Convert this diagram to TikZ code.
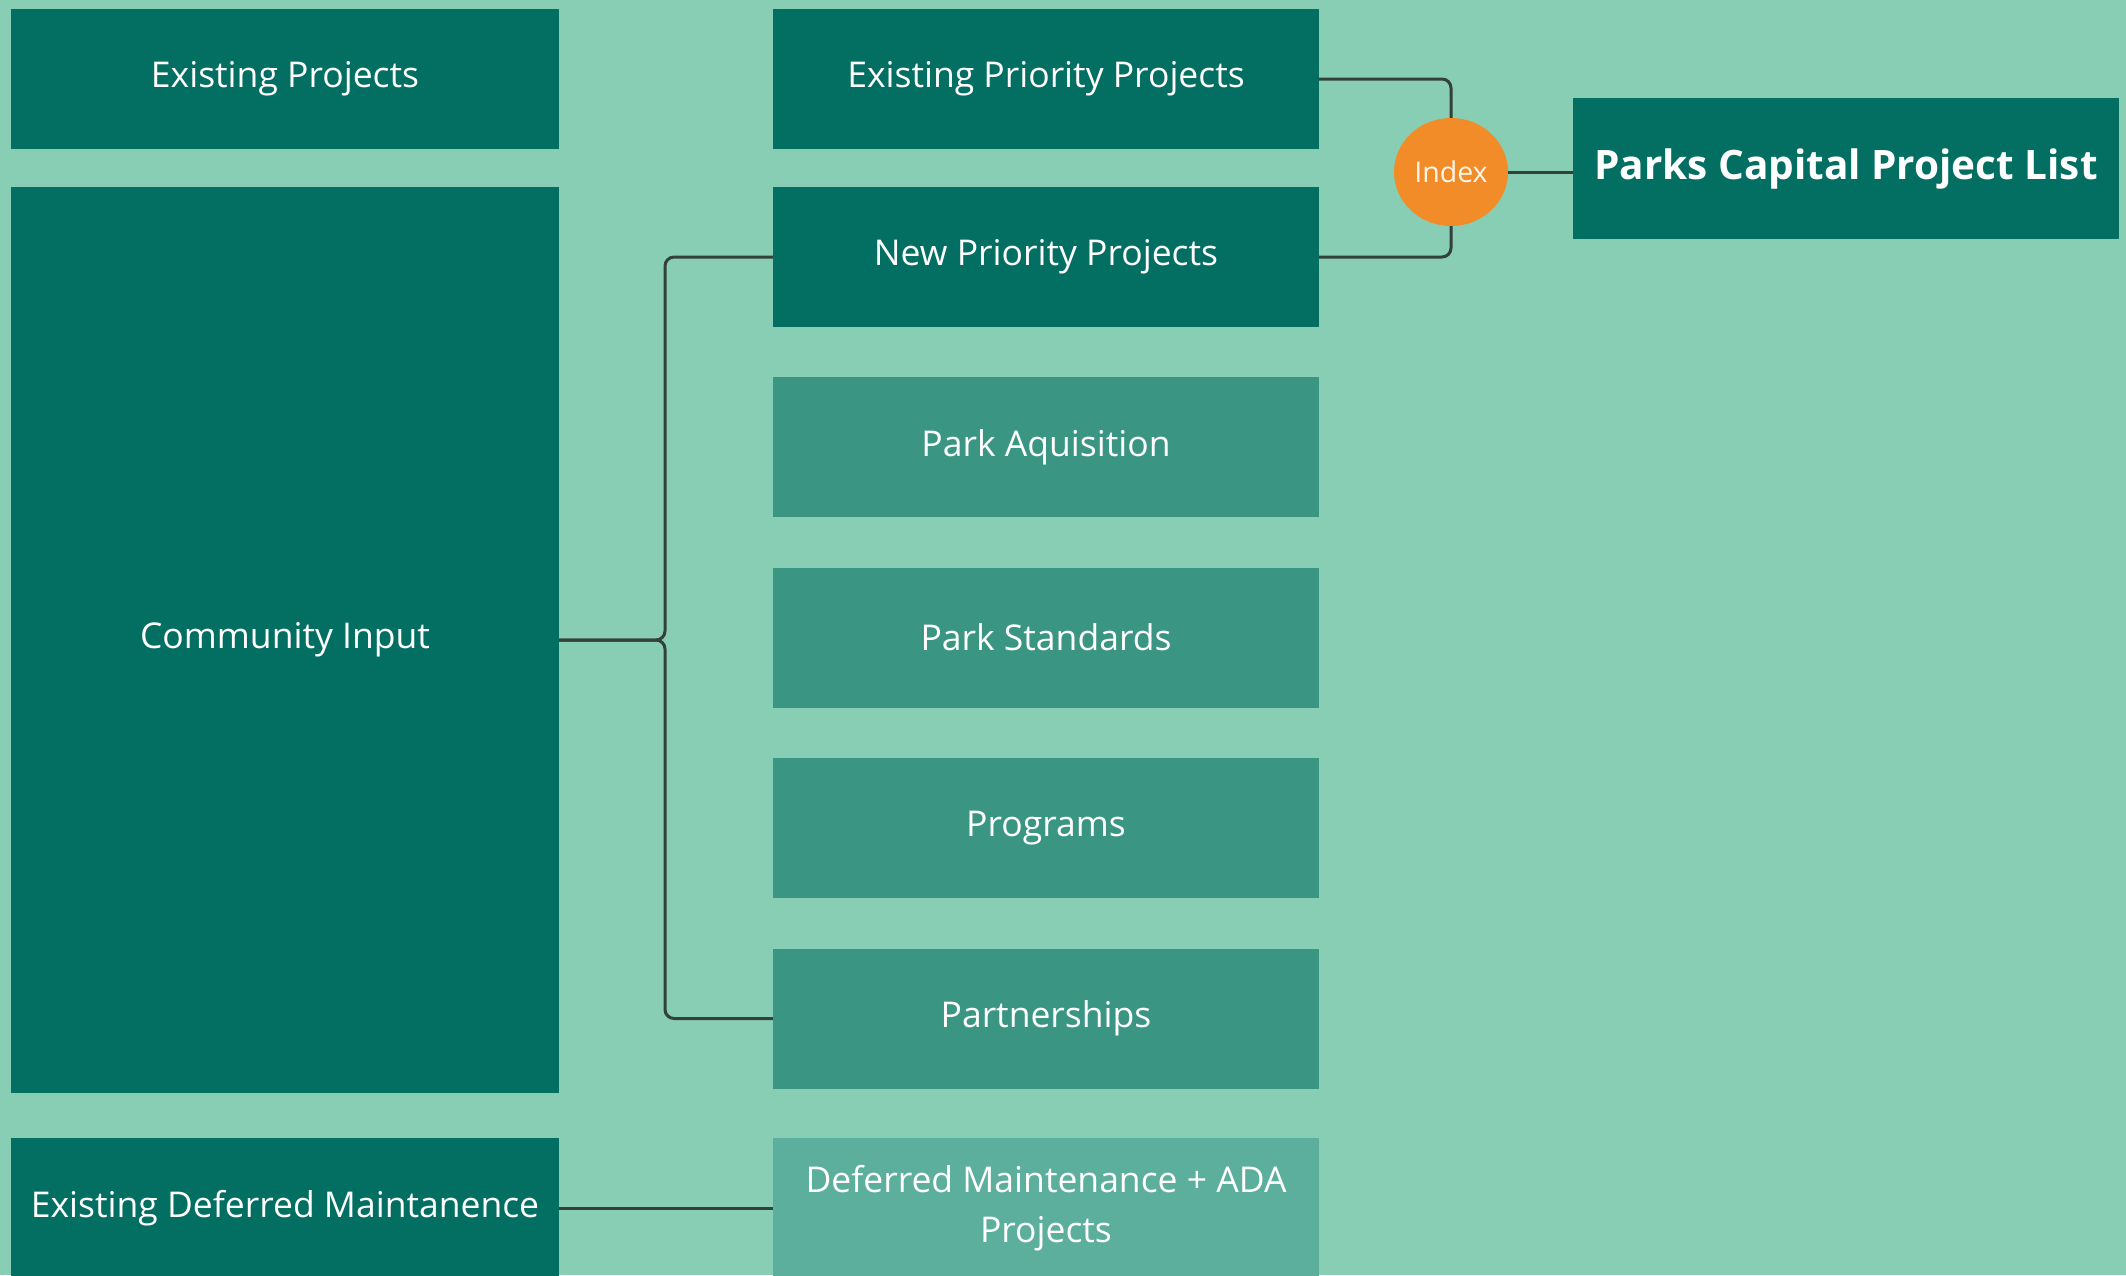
\documentclass[tikz,border=0pt]{standalone}
\usepackage{fontspec}
\setmainfont{Open Sans}
\usetikzlibrary{shapes.geometric}
\definecolor{bgc}{HTML}{87CEB4}
\definecolor{darkteal}{HTML}{036F63}
\definecolor{midteal}{HTML}{3A9683}
\definecolor{lightteal}{HTML}{5CAF9D}
\definecolor{orangec}{HTML}{F28C28}
\definecolor{linec}{HTML}{33403C}
\tikzset{
  box/.style={rectangle, inner sep=0pt, text=white, align=center,
    font=\fontsize{35.5}{50}\selectfont},
  darkbox/.style={box, fill=darkteal},
  midbox/.style={box, fill=midteal},
  lightbox/.style={box, fill=lightteal},
  conn/.style={draw=linec, line width=3pt, rounded corners=9pt},
}
\begin{document}
\begin{tikzpicture}[x=1pt,y=-1pt]
\fill[bgc] (0,0) rectangle (2126,1275);
\useasboundingbox (0,0) rectangle (2126,1275);
\clip (0,0) rectangle (2126,1275);
% left column
\node[darkbox, minimum width=548pt, minimum height=140pt] (ep) at (285,79) {Existing Projects};
\node[darkbox, minimum width=548pt, minimum height=906pt] (ci) at (285,640) {Community Input};
\node[darkbox, minimum width=548pt, minimum height=140pt] (edm) at (285,1208) {Existing Deferred Maintanence};
% middle column
\node[darkbox, minimum width=546pt, minimum height=140pt] (epp) at (1046,79) {Existing Priority Projects};
\node[darkbox, minimum width=546pt, minimum height=140pt] (npp) at (1046,257) {New Priority Projects};
\node[midbox, minimum width=546pt, minimum height=140pt] (pa) at (1046,447) {Park Aquisition};
\node[midbox, minimum width=546pt, minimum height=140pt] (ps) at (1046,637.5) {Park Standards};
\node[midbox, minimum width=546pt, minimum height=140pt] (pr) at (1046,828) {Programs};
\node[midbox, minimum width=546pt, minimum height=140pt] (pt) at (1046,1018.5) {Partnerships};
\node[lightbox, minimum width=546pt, minimum height=140pt] (dm) at (1046,1208) {Deferred Maintenance + ADA\\Projects};
% right
\node[darkbox, minimum width=546pt, minimum height=141pt, font=\fontsize{40.5}{50}\selectfont\bfseries] (pcl) at (1846,168.5) {Parks Capital Project List};
\node[ellipse, fill=orangec, minimum width=114pt, minimum height=108pt, inner sep=0pt, text=white!92!orange, font=\fontsize{28.5}{32}\selectfont] (idx) at (1451,172) {Index};
% connectors
\coordinate (jx) at (665,640);
\draw[conn] (npp.west) -| (jx) -- (ci.east);
\draw[conn] (ci.east) -- (jx) |- (pt.west);
\draw[conn] (epp.east) -| (idx.north);
\draw[conn] (npp.east) -| (idx.south);
\draw[conn] (idx.east) -- (pcl.west |- idx.east);
\draw[conn] (edm.east) -- (dm.west);
\end{tikzpicture}
\end{document}
